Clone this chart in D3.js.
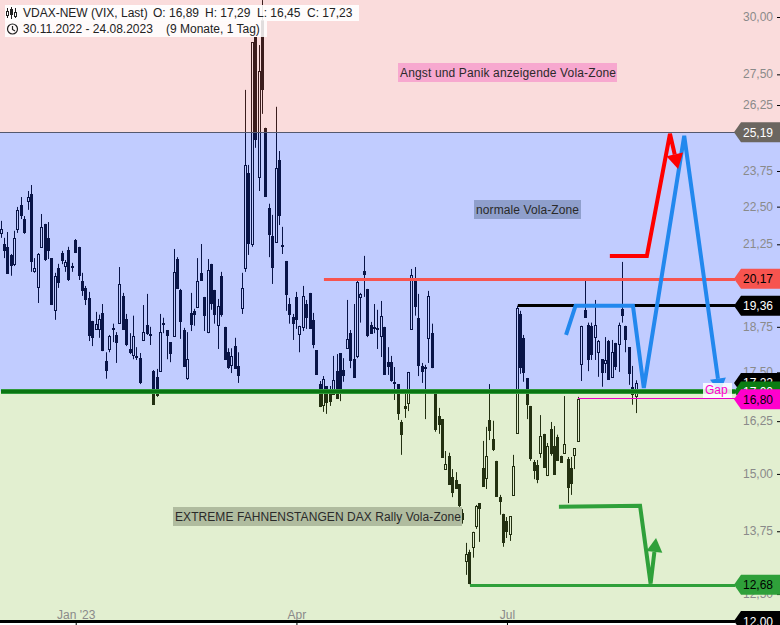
<!DOCTYPE html>
<html><head><meta charset="utf-8">
<script src="https://cdn.jsdelivr.net/npm/d3@7"></script>
<style>html,body{margin:0;padding:0;background:#fff;overflow:hidden}svg{display:block}text{font-family:"Liberation Sans",Arial,sans-serif;font-size:12px}</style>
</head><body><svg id="c" width="780" height="625"></svg>
<script>
const opens=[21.62,21.26,21.17,20.91,20.62,21.75,22.56,22.08,22.70,22.94,
20.41,19.92,21.17,21.92,21.46,20.81,19.24,20.50,20.97,20.56,
21.07,20.56,21.39,21.17,20.10,19.89,19.59,18.92,18.69,18.69,
19.15,17.80,18.13,18.72,18.52,18.87,19.65,18.98,18.13,17.96,
17.94,17.88,18.38,18.81,18.55,17.53,17.38,17.53,18.87,18.66,
18.32,18.49,20.78,19.83,18.66,17.33,19.15,19.21,19.33,20.35,
19.62,18.60,20.63,19.83,18.81,20.26,18.75,18.04,17.70,18.21,
17.67,19.30,20.50,23.68,21.26,29.10,23.54,29.86,25.36,22.46,
21.52,21.33,24.15,21.23,20.72,19.41,19.04,19.62,18.55,18.75,
19.41,19.74,18.95,18.10,17.19,16.66,17.14,16.94,16.94,17.53,
18.02,17.56,18.15,18.57,17.85,17.94,19.62,20.41,19.86,18.81,
18.75,18.72,18.49,18.75,17.78,17.78,17.25,17.19,16.23,16.63,
16.70,18.69,20.10,19.01,17.67,17.64,18.44,18.57,16.96,16.38,
16.30,15.11,15.42,14.93,14.86,14.77,14.14,13.15,13.33,13.43,
13.86,14.35,15.14,14.91,16.28,15.82,15.30,14.49,14.12,13.97,
13.70,14.53,15.96,19.12,18.44,17.35,16.63,15.27,15.20,15.49,
15.94,14.98,16.06,15.65,15.87,15.42,15.49,15.34,15.14,15.44,
15.77,17.73,19.24,18.81,18.78,18.46,18.04,17.85,17.75,18.35,
17.38,18.30,18.27,19.27,18.78,18.18,17.12,16.89];
const closes=[21.75,21.04,20.32,20.56,21.46,22.39,22.18,21.62,22.83,20.69,
20.50,20.94,21.82,20.75,21.04,19.38,20.26,20.04,20.72,20.69,
20.13,20.50,20.97,20.26,19.80,19.53,18.49,18.44,18.84,18.98,
18.07,17.53,18.49,18.66,18.30,20.01,18.66,18.24,18.02,18.49,
17.88,17.22,18.60,18.55,18.49,16.66,16.89,18.60,18.81,18.49,
17.99,20.38,19.86,18.89,17.64,17.85,18.81,19.10,20.10,20.10,
19.07,20.44,19.41,19.10,19.36,19.10,17.83,17.61,17.94,17.59,
17.41,19.89,23.97,21.26,28.88,24.90,27.64,26.86,22.83,21.55,
20.50,23.86,22.18,21.17,19.68,19.10,18.84,18.95,18.78,19.65,
19.01,18.69,18.24,17.43,16.60,17.33,16.70,16.73,17.30,16.81,
16.94,17.40,18.41,17.80,17.35,20.07,19.71,20.29,18.49,18.55,
18.69,18.66,19.07,17.43,17.64,17.27,17.22,16.43,15.92,16.55,
17.51,20.29,19.33,17.67,17.51,17.59,19.65,17.61,16.04,16.16,
15.37,15.23,14.75,14.57,14.66,14.29,13.99,13.29,12.69,13.74,
14.29,14.22,14.71,15.42,16.01,15.56,14.49,14.38,13.51,13.74,
14.07,15.18,19.30,17.61,17.48,16.66,15.34,15.07,14.86,15.89,
15.14,15.65,15.46,14.98,15.30,15.25,15.70,14.68,14.77,15.60,
16.81,18.78,19.01,17.85,17.96,18.81,18.35,17.48,17.83,17.30,
18.04,17.64,18.81,19.07,18.38,17.46,16.91,17.23];
const highs=[22.02,21.46,21.65,20.94,21.69,22.49,22.83,22.18,23.04,23.25,
20.81,20.97,22.25,21.92,21.98,20.81,20.35,20.63,21.04,20.75,
21.17,20.66,21.42,21.17,20.35,19.95,19.77,18.92,19.18,19.10,
19.41,18.04,18.52,18.84,18.60,20.53,19.74,19.12,18.57,19.07,
18.18,18.02,19.38,19.71,18.75,17.56,17.59,19.12,19.01,18.66,
18.32,21.10,20.84,19.86,18.72,18.60,19.74,19.27,20.81,21.26,
19.62,20.78,20.63,19.83,19.56,20.38,18.75,18.15,18.15,18.44,
18.04,20.35,26.86,23.97,28.88,29.10,28.75,30.78,25.36,22.60,
22.22,26.18,24.48,21.82,20.72,19.59,19.12,19.77,18.78,19.95,
19.53,19.74,19.15,18.10,17.27,17.40,17.14,17.14,17.94,17.99,
18.02,17.88,19.53,18.66,19.41,20.10,19.74,20.88,19.86,18.89,
19.41,19.24,19.50,18.75,18.18,17.94,17.64,17.19,16.28,16.96,
17.51,20.47,20.53,19.71,17.75,17.70,19.80,18.84,16.96,16.58,
16.30,15.53,15.49,15.11,15.04,14.77,14.22,13.51,13.37,13.74,
14.31,14.35,15.77,16.11,17.19,16.26,15.30,14.53,14.12,14.05,
14.07,15.44,19.36,19.21,18.52,17.35,16.63,15.32,15.32,16.40,
15.94,15.72,16.23,16.13,15.92,15.42,16.88,15.39,15.39,15.60,
16.86,18.78,20.10,18.87,18.87,19.53,18.38,17.85,18.46,18.38,
18.38,18.30,18.87,20.69,18.78,18.18,17.67,17.29];
const lows=[21.46,20.81,20.32,20.26,20.56,21.62,22.08,21.59,22.39,20.38,
20.35,19.44,21.17,20.72,20.78,19.38,18.95,19.89,20.62,20.38,
20.10,20.38,20.97,20.13,19.65,19.38,18.35,18.21,18.69,18.44,
18.07,17.33,18.04,18.32,17.75,18.87,18.66,18.21,17.99,17.85,
17.83,17.19,18.35,18.52,18.24,16.66,16.86,17.53,18.57,17.85,
17.77,18.49,19.86,18.41,17.64,17.30,18.63,18.78,19.33,20.10,
18.63,18.57,19.24,18.84,18.13,19.04,17.83,17.59,17.48,17.59,
17.22,19.12,20.38,20.91,21.17,24.60,23.04,25.90,22.83,20.84,
20.01,21.33,21.88,20.94,19.21,18.84,18.38,18.69,18.04,18.63,
18.69,18.69,18.15,17.43,16.60,16.48,16.43,16.63,16.94,16.81,
16.75,17.25,18.13,17.61,17.35,17.88,18.87,19.62,18.46,18.55,
18.57,18.13,17.91,17.43,17.43,17.25,16.78,16.28,15.44,16.33,
16.50,18.69,19.07,17.40,17.22,16.30,17.75,17.61,15.99,15.94,
15.37,15.11,14.75,14.48,14.66,14.20,13.91,12.87,12.69,13.21,
13.80,13.53,14.71,14.66,15.79,15.53,14.49,14.10,13.43,13.61,
13.55,14.53,15.96,17.46,17.25,16.30,15.30,14.88,14.79,15.37,
15.14,14.95,15.42,14.98,15.30,15.25,15.49,14.35,14.53,15.11,
15.77,17.27,19.01,17.53,17.83,17.83,17.38,17.12,17.48,17.30,
17.38,17.56,17.51,18.87,18.04,17.17,16.66,16.45];

const yTicks=[30,27.5,26.25,23.75,22.5,21.25,18.75,17.5,16.25,15,13.75,12.5];
const monthIdx=[22,87,149];
const monthLabels=["Jan '23","Apr","Jul"];
const zoneTop=25.19, zoneMid=17.00, zoneBottom=12.00;
const tagVals=[25.19,20.17,19.36,17.22,17.00,16.80,12.68,12.00];
const tagFills=["#6b6660","#f7544f","#000000","#000000","#0a7d12","#ff00cc","#2fa03a","#000000"];
const tagInk=["#fff","#000","#fff","#fff","#fff","#000","#000","#fff"];
const blueI=[166.4,169.2,186.1,189.3,201.2,211.7];
const blueP=[18.52,19.36,19.36,17.09,25.05,16.97];
const redI=[179.3,190.2,197,199.4];
const redP=[20.88,20.88,25.13,23.82];
const greenI=[164.3,188.2,191.3,192.9];
const greenP=[14.27,14.29,12.70,13.61];
const lvlRedStart=95.1, lvlBlackStart=152.2, lvlGapStart=169.9, lvlGreenStart=138.1;

const svg=d3.select("#c");
const axisX=735;
const x=d3.scaleLinear().domain([0,187]).range([1,636]);
const y=d3.scaleLog().domain([30,12]).range([17,621]);
const fmt=d3.format(".2f");
const de=v=>fmt(v).replace(".",",");

// candles
const data=opens.map((o,i)=>({i,o,h:highs[i],l:lows[i],c:closes[i]}));
const cg=svg.append("g");
data.forEach(d=>{
  const n=Math.floor(x(d.i)), px=n+.5, top=y(Math.max(d.o,d.c)), bot=y(Math.min(d.o,d.c));
  cg.append("line").attr("x1",px).attr("x2",px).attr("y1",y(d.h)).attr("y2",y(d.l)).attr("stroke","#000");
  if(d.c>=d.o) cg.append("rect").attr("x",n-.5).attr("y",Math.round(top)+.5).attr("width",2).attr("height",Math.max(1,Math.round(bot-top))).attr("fill","#fff").attr("stroke","#000");
  else cg.append("rect").attr("x",n-1).attr("y",Math.round(top)).attr("width",3).attr("height",Math.max(2,Math.round(bot-top))).attr("fill","#000");
});

// zones
const zones=[[null,zoneTop,"rgb(235,115,115)",.25],[zoneTop,zoneMid,"rgb(34,73,255)",.28],[zoneMid,zoneBottom,"rgb(139,191,67)",.25]];
zones.forEach(z=>{const t=z[0]==null?0:y(z[0]),b=y(z[1]);
  svg.append("rect").attr("x",0).attr("width",780).attr("y",t).attr("height",b-t).attr("fill",z[2]).attr("fill-opacity",z[3]);});

// axes
const ya=d3.axisLeft(y).tickValues(yTicks).tickFormat(de).tickSize(3).tickPadding(4);
const yg=svg.append("g").attr("transform","translate(780,0)").call(ya);
yg.select(".domain").remove();
yg.selectAll("text").attr("fill","#8a8a8a").attr("dy","0.28em").style("font-size","12px");
yg.selectAll("line").attr("stroke","#000");
const xa=d3.axisBottom(x).tickValues(monthIdx).tickFormat((d,i)=>monthLabels[i]).tickSize(4);
const xg=svg.append("g").attr("transform","translate(0,"+y(zoneBottom)+")").call(xa);
xg.select(".domain").remove();
xg.selectAll("text").attr("y",-2).attr("dy",0).attr("fill","#8a8a8a").style("font-size","12px");
xg.selectAll("line").attr("stroke","#000");

// level lines
const hl=(x0,xe,p,col,w,off)=>{const yy=Math.round(y(p))+off;
  return svg.append("line").attr("x1",x0).attr("x2",xe).attr("y1",yy).attr("y2",yy).attr("stroke",col).attr("stroke-width",w);};
hl(0,axisX,25.19,"#55586e",1,.5);
hl(x(lvlRedStart),axisX,20.17,"#f7544f",3,.5);
hl(x(lvlBlackStart),axisX,19.36,"#000",3,-.5);
hl(x(lvlGapStart),axisX,16.80,"#e600c8",1,-.5);
hl(x(lvlGreenStart),axisX,12.68,"#2fa03a",3,.5);
hl(1,axisX,17.00,"#2f9a3a",5,.5);
hl(1,axisX,17.00,"#0a7512",3,.5);
hl(0,axisX,12.00,"#000",3,.5);

// drawn arrows
const ln=d3.line().x(d=>x(d[0])).y(d=>y(d[1]));
function arrow(is,ps,col,w,hLen,hHalf){
  const pts=is.map((v,i)=>[v,ps[i]]);
  const n=pts.length, tx=x(pts[n-1][0]), ty=y(pts[n-1][1]), ax=x(pts[n-2][0]), ay=y(pts[n-2][1]);
  const L=Math.hypot(tx-ax,ty-ay), ux=(tx-ax)/L, uy=(ty-ay)/L;
  const bx=tx-ux*hLen, by=ty-uy*hLen;
  const shaft=pts.slice(0,n-1);
  const g=svg.append("g");
  g.append("path").attr("d",ln(shaft)+"L"+bx+","+by).attr("fill","none").attr("stroke",col).attr("stroke-width",w).attr("stroke-linejoin","miter");
  g.append("polygon").attr("points",[[tx,ty],[bx-uy*hHalf,by+ux*hHalf],[bx+uy*hHalf,by-ux*hHalf]].join(" ")).attr("fill",col);
}
arrow(blueI,blueP,"#2288ee",4,14,8);
arrow(redI,redP,"#ff0000",4,15,8.5);
arrow(greenI,greenP,"#2fa03a",4,14,8);

// zone labels
function note(tx,ty,w,h,fill,str,tl){
  svg.append("rect").attr("x",tx).attr("y",ty).attr("width",w).attr("height",h).attr("fill",fill);
  svg.append("text").attr("x",tx+2).attr("y",ty+14).attr("fill","#2a2a2a").attr("textLength",tl).attr("lengthAdjust","spacing").text(str);
}
note(398,63,219,19,"#f7a8cf","Angst und Panik anzeigende Vola-Zone",216);
note(474,200,107,19,"#8f9fcc","normale Vola-Zone",103);
note(173,507,289,19,"#b0bc9f","EXTREME FAHNENSTANGEN DAX Rally Vola-Zone",286);

// tags
tagVals.forEach((v,i)=>{
  const c=y(v);
  svg.append("path").attr("d",`M734,${c}L741,${c-10}H780V${c+10}H741Z`).attr("fill",tagFills[i]);
  svg.append("text").attr("x",743).attr("y",c+4.5).attr("fill",tagInk[i]).text(de(v));
});
// Gap label
svg.append("rect").attr("x",703).attr("y",383).attr("width",29).attr("height",15).attr("fill","#fff").attr("fill-opacity",.85);
svg.append("text").attr("x",705).attr("y",394).attr("fill","#ff00cc").text("Gap");

// legend
svg.append("rect").attr("x",5).attr("y",5).attr("width",354).attr("height",16).attr("fill","#fff").attr("fill-opacity",.9);
svg.append("rect").attr("x",5).attr("y",21).attr("width",262).attr("height",16).attr("fill","#fff").attr("fill-opacity",.85);
const ink="#222";
svg.append("text").attr("x",23).attr("y",17).attr("fill",ink).text("VDAX-NEW (VIX, Last)");
svg.append("text").attr("x",153).attr("y",17).attr("fill",ink).text("O: 16,89");
svg.append("text").attr("x",205).attr("y",17).attr("fill",ink).text("H: 17,29");
svg.append("text").attr("x",257).attr("y",17).attr("fill",ink).text("L: 16,45");
svg.append("text").attr("x",307).attr("y",17).attr("fill",ink).text("C: 17,23");
svg.append("text").attr("x",23).attr("y",33).attr("fill",ink).text("30.11.2022 - 24.08.2023");
svg.append("text").attr("x",166).attr("y",33).attr("fill",ink).text("(9 Monate, 1 Tag)");
const ic=svg.append("g").attr("stroke","#222").attr("fill","none");
[[7.5,8,18,11,15],[11.5,7,19,9,14],[15.5,8,18,12,16]].forEach(a=>{
  ic.append("line").attr("x1",a[0]).attr("x2",a[0]).attr("y1",a[1]).attr("y2",a[2]);
  ic.append("rect").attr("x",a[0]-1).attr("y",a[3]+.5).attr("width",2).attr("height",a[4]-a[3]).attr("fill",a[0]==11.5?"#222":"#fff");
});
const ck=svg.append("g").attr("stroke","#222").attr("fill","none").attr("stroke-width",1.2);
ck.append("circle").attr("cx",12.5).attr("cy",29).attr("r",5);
ck.append("path").attr("d","M12.5,26V29.5L15,31");
</script></body></html>
